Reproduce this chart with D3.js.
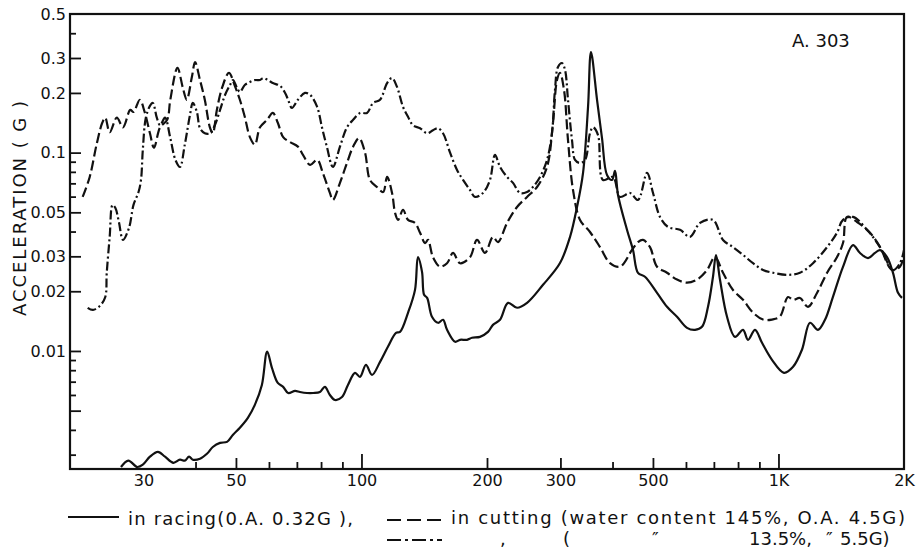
<!DOCTYPE html>
<html lang="en">
<head>
<meta charset="utf-8">
<title>Acceleration spectrum A.303</title>
<script src="https://cdn.jsdelivr.net/npm/d3@7"></script>
<style>
  body { margin: 0; background: #fff; }
  svg text { font-family: "DejaVu Sans", sans-serif; fill: #111; }
  .frame { fill: none; stroke: #111; stroke-width: 2.2; }
  .ticks line { stroke: #111; stroke-width: 1.8; }
  .curve { fill: none; stroke: #111; stroke-width: 2.2; stroke-linejoin: round; }
</style>
</head>
<body>
<script>
// frequency (Hz) / acceleration (G)
var racing = [[26.5,0.0026],[27.6,0.0028],[29.0,0.0026],[29.9,0.00267],[31.1,0.00293],[32.5,0.0031],[33.8,0.00293],[35.4,0.00273],[36.7,0.00283],[37.7,0.0028],[38.6,0.00293],[39.4,0.00283],[41.0,0.00286],[42.6,0.00303],[44.0,0.00328],[45.8,0.00344],[47.6,0.00348],[49.2,0.00378],[51.1,0.0041],[53.4,0.0046],[55.5,0.00535],[57.7,0.00674],[59.4,0.00993],[61.0,0.00822],[63.0,0.0069],[64.9,0.00659],[66.7,0.00614],[69.3,0.00629],[71.2,0.00621],[74.0,0.00614],[76.6,0.00614],[79.5,0.00621],[81.7,0.00659],[84.0,0.006],[86.4,0.00566],[89.8,0.00586],[92.8,0.00674],[96.5,0.00776],[99.2,0.0074],[102.5,0.00851],[106,0.00757],[110.8,0.00881],[115.8,0.01053],[121,0.01234],[123.7,0.01248],[129.3,0.01558],[134.4,0.02033],[136.6,0.02975],[139.7,0.02506],[141.3,0.0192],[143.7,0.01852],[147.6,0.01487],[152.6,0.01387],[156.9,0.01436],[160.4,0.01278],[167.7,0.01112],[172.3,0.01138],[179.1,0.01138],[184.1,0.01165],[192.4,0.01178],[201.1,0.01248],[206.7,0.01354],[214.9,0.01436],[224.6,0.01748],[236.1,0.01651],[249.5,0.01748],[272.5,0.02155],[299.3,0.02774],[316.3,0.03757],[328.8,0.05322],[339.9,0.079],[349.4,0.17],[355.1,0.3217],[367.2,0.1847],[377.4,0.1184],[388,0.0772],[398.9,0.0728],[405.5,0.0809],[412.3,0.0612],[433.4,0.04076],[447.9,0.03227],[460.4,0.02477],[478.5,0.02366],[511.4,0.01964],[540.4,0.01671],[571.1,0.01487],[603.5,0.01308],[630.8,0.01278],[655.6,0.01323],[677.7,0.01671],[696.6,0.02366],[708.3,0.0304],[724.1,0.02285],[752.7,0.01487],[786.6,0.01178],[822.2,0.01278],[845.3,0.01138],[878.5,0.01278],[913.1,0.01099],[964.9,0.00902],[1031,0.00776],[1084,0.00832],[1139,0.01017],[1190,0.01387],[1244,0.01278],[1293,0.01436],[1351,0.01874],[1428,0.02656],[1509,0.0342],[1569,0.03117],[1640,0.0294],[1704,0.0312],[1752,0.03227],[1821,0.02975],[1882,0.02477],[1935,0.01964],[1978,0.01852]];

var cutting145 = [[21.45,0.0598],[22.3,0.0754],[23.2,0.1117],[23.9,0.1414],[24.3,0.1499],[24.9,0.1267],[25.9,0.150],[26.8,0.1342],[27.9,0.1642],[28.4,0.1604],[29.4,0.1847],[30.2,0.1604],[31.1,0.1252],[31.8,0.106],[32.9,0.1342],[34.2,0.1464],[34.8,0.1847],[36.2,0.2673],[37.3,0.2119],[38.1,0.1847],[39.2,0.2405],[39.9,0.2862],[41.0,0.2322],[42.1,0.1847],[43.3,0.1342],[44.0,0.1252],[45.0,0.1642],[46.3,0.2119],[48.1,0.2522],[49.8,0.2144],[51.1,0.1847],[52.5,0.1516],[54.0,0.1198],[55.5,0.1097],[57.1,0.1342],[59.4,0.1464],[61.3,0.1585],[63.0,0.1414],[64.9,0.1198],[67.4,0.113],[70.4,0.1072],[72.4,0.0974],[75.3,0.0867],[78.3,0.0919],[80.8,0.079],[84.0,0.0626],[85.4,0.0577],[88.8,0.0704],[92.3,0.0887],[95.5,0.1072],[98.7,0.1184],[102,0.1],[104.8,0.0728],[108.9,0.0671],[112.7,0.0633],[115.2,0.0754],[118.4,0.0626],[120.4,0.0496],[122.4,0.0458],[125.8,0.0514],[129.3,0.0458],[134.4,0.0442],[138.2,0.0394],[142.1,0.035],[144.4,0.0363],[148.4,0.0297],[154.3,0.0266],[160.4,0.0277],[165.8,0.0312],[172.3,0.0277],[182.1,0.0297],[189.3,0.0363],[197.8,0.0312],[206.7,0.0376],[212.5,0.0354],[223.4,0.0442],[236.1,0.0532],[249.5,0.0598],[263.6,0.0671],[278.6,0.0847],[287.9,0.1414],[294.4,0.2322],[299.3,0.2522],[306,0.2071],[312.8,0.1157],[321.6,0.0648],[334.3,0.0458],[353.2,0.0398],[373.3,0.0334],[394.5,0.0277],[416.9,0.0266],[445.4,0.0323],[460.4,0.0354],[473.3,0.0363],[492,0.0334],[511.4,0.0266],[540.4,0.0248],[571.1,0.0229],[603.5,0.0221],[637.8,0.0229],[674,0.0256],[704.4,0.0297],[736.2,0.0248],[778,0.0203],[822.2,0.0181],[868.9,0.0156],[918.2,0.0144],[964.9,0.0144],[1008,0.0149],[1054,0.0187],[1084,0.0181],[1126,0.0185],[1177,0.0167],[1237,0.0196],[1308,0.0248],[1381,0.0297],[1428,0.035],[1460,0.0474],[1543,0.0447],[1658,0.0394],[1752,0.0334],[1872,0.0256],[1956,0.0266],[2000,0.0305]];

var cutting135 = [[22.05,0.0165],[22.7,0.0161],[23.6,0.0169],[24.3,0.0187],[24.5,0.0248],[24.9,0.0376],[25.3,0.0545],[25.7,0.0526],[26.2,0.0447],[26.8,0.0363],[27.7,0.0417],[28.4,0.0545],[29.2,0.0633],[29.6,0.0728],[29.9,0.1035],[30.4,0.150],[31.1,0.172],[31.6,0.178],[32.3,0.150],[32.9,0.1374],[33.8,0.150],[34.8,0.1184],[35.8,0.0919],[36.7,0.0847],[37.7,0.1097],[38.8,0.1552],[39.4,0.178],[40.3,0.1604],[41.0,0.1327],[42.1,0.1252],[43.3,0.1252],[44.5,0.1374],[45.8,0.1642],[47.1,0.1957],[48.4,0.2194],[49.2,0.2322],[50.3,0.2119],[51.1,0.2023],[52.5,0.2194],[54.0,0.2269],[55.5,0.2322],[57.1,0.2322],[58.1,0.2377],[59.7,0.2322],[61.3,0.2243],[63.8,0.217],[65.6,0.2],[66.7,0.1847],[68.1,0.168],[70.4,0.1847],[73.2,0.2],[75.3,0.1957],[78.3,0.170],[80.4,0.1342],[82.6,0.1072],[85.4,0.0847],[88.8,0.1072],[92.3,0.1342],[95.5,0.1464],[99.2,0.1585],[103.1,0.1585],[106.6,0.178],[110.8,0.1847],[115.2,0.2243],[118.4,0.2377],[121.7,0.2144],[125.8,0.170],[129.3,0.1516],[132.9,0.1374],[138.2,0.1327],[143.7,0.1252],[148.4,0.1297],[152.6,0.1327],[156.9,0.1252],[163.1,0.1],[169.5,0.0818],[175.2,0.0728],[182.1,0.0648],[187.2,0.0598],[195.6,0.0626],[203.3,0.0728],[209,0.0974],[214.9,0.0847],[223.4,0.0754],[230.9,0.0704],[240,0.0626],[249.5,0.0633],[257.8,0.0671],[268,0.0754],[278.6,0.0919],[286.3,0.1252],[291.1,0.2071],[296,0.2704],[302.6,0.2829],[307.7,0.2612],[312.8,0.1847],[319.8,0.1157],[325.2,0.0919],[334.3,0.0887],[343.7,0.0919],[353.2,0.1252],[359.1,0.1342],[369.2,0.1226],[379.5,0.0728],[401.1,0.0754],[416.9,0.0598],[440.5,0.0626],[460.4,0.0577],[483.9,0.079],[500.2,0.0626],[519.9,0.0474],[543.4,0.0422],[580.6,0.0408],[613.6,0.0376],[648.4,0.0442],[696.6,0.0458],[736.2,0.0363],[778,0.0334],[822.2,0.0305],[868.9,0.0277],[918.2,0.0256],[970.2,0.0248],[1048,0.0242],[1126,0.0248],[1210,0.0277],[1308,0.0334],[1381,0.0394],[1428,0.0458],[1509,0.0474],[1631,0.0408],[1752,0.0334],[1882,0.0256],[1956,0.0277],[2000,0.0323]];

// tick marks and labels
var xLabelVals = [30, 50, 100, 200, 300, 500, 1000, 2000];
var xLabelText = ["30", "50", "100", "200", "300", "500", "1K", "2K"];
var xDecadeTicks = [100, 1000];
var xMidTicks = [50, 200, 300, 500];
var xMinorTicks = [40, 60, 70, 80, 90, 400, 600, 700, 800, 900];

var yLabelVals = [0.5, 0.3, 0.2, 0.1, 0.05, 0.03, 0.02, 0.01];
var yLabelText = ["0.5", "0.3", "0.2", "0.1", "0.05", "0.03", "0.02", "0.01"];
var yMajorTicks = [0.3, 0.2, 0.1, 0.05, 0.03, 0.02, 0.01, 0.005];
var yMinorTicks = [0.4, 0.09, 0.08, 0.07, 0.06, 0.04, 0.009, 0.008, 0.007, 0.006, 0.004, 0.003];

var w = 920, h = 552;
var plotL = 70, plotR = 904, plotT = 14, plotB = 469;

var svg = d3.select("body").append("svg")
    .attr("width", w)
    .attr("height", h);

var x = d3.scaleLog().domain([20, 2000]).range([plotL, plotR]);
var y = d3.scaleLog().domain([0.00254, 0.5]).range([plotB, plotT]);

// ticks along the bottom (pointing up into the plot)
function xTicks(vals, len) {
  var g = svg.append("g").attr("class", "ticks")
      .attr("transform", "translate(0," + plotB + ")")
      .call(d3.axisBottom(x).tickValues(vals).tickSize(-len).tickFormat(""));
  g.select(".domain").remove();
}
xTicks(xMinorTicks, 7);
xTicks(xMidTicks, 11);
xTicks(xDecadeTicks, 15);

var xLab = svg.append("g")
    .attr("transform", "translate(0," + plotB + ")")
    .call(d3.axisBottom(x).tickValues(xLabelVals).tickSize(0).tickPadding(6)
      .tickFormat(function(d, i) { return xLabelText[i]; }));
xLab.select(".domain").remove();
xLab.selectAll("text").attr("font-size", 16).attr("font-family", "DejaVu Sans, sans-serif").attr("fill", "#111");

// ticks along the left side (pointing right)
function yTicks(vals, len) {
  var g = svg.append("g").attr("class", "ticks")
      .attr("transform", "translate(" + plotL + ",0)")
      .call(d3.axisLeft(y).tickValues(vals).tickSize(-len).tickFormat(""));
  g.select(".domain").remove();
}
yTicks(yMinorTicks, 6);
yTicks(yMajorTicks, 11);

var yLab = svg.append("g")
    .attr("transform", "translate(" + plotL + ",0)")
    .call(d3.axisLeft(y).tickValues(yLabelVals).tickSize(0).tickPadding(4)
      .tickFormat(function(d, i) { return yLabelText[i]; }));
yLab.select(".domain").remove();
yLab.selectAll("text").attr("font-size", 16).attr("font-family", "DejaVu Sans, sans-serif").attr("fill", "#111");

// frame
svg.append("rect").attr("class", "frame")
    .attr("x", plotL).attr("y", plotT)
    .attr("width", plotR - plotL).attr("height", plotB - plotT);

svg.append("clipPath").attr("id", "plotclip")
  .append("rect").attr("x", plotL).attr("y", plotT)
    .attr("width", plotR - plotL).attr("height", plotB - plotT);

var line = d3.line()
    .x(function(d) { return x(d[0]); })
    .y(function(d) { return y(d[1]); })
    .curve(d3.curveCatmullRom.alpha(0.5));

var plot = svg.append("g").attr("clip-path", "url(#plotclip)");

plot.append("path").datum(cutting135).attr("class", "curve")
    .attr("stroke-dasharray", "9,3,2,3")
    .attr("d", line);
plot.append("path").datum(cutting145).attr("class", "curve")
    .attr("stroke-dasharray", "10,4")
    .attr("d", line);
plot.append("path").datum(racing).attr("class", "curve")
    .attr("d", line);

// labels
svg.append("text")
    .attr("x", 792).attr("y", 47)
    .attr("font-size", 18)
    .text("A. 303");

svg.append("text")
    .attr("transform", "translate(26,316) rotate(-90)")
    .attr("font-size", 18)
    .attr("textLength", 215)
    .attr("lengthAdjust", "spacing")
    .text("ACCELERATION ( G )");

// legend
svg.append("line").attr("x1", 68).attr("x2", 119).attr("y1", 517).attr("y2", 517)
    .attr("stroke", "#111").attr("stroke-width", 2.2);
svg.append("text").attr("x", 128).attr("y", 525).attr("font-size", 18)
    .attr("textLength", 225).attr("lengthAdjust", "spacing")
    .text("in racing(0.A. 0.32G ),");

svg.append("line").attr("x1", 387).attr("x2", 442).attr("y1", 520).attr("y2", 520)
    .attr("stroke", "#111").attr("stroke-width", 2.2).attr("stroke-dasharray", "14,6");
svg.append("text").attr("x", 451).attr("y", 524).attr("font-size", 18)
    .attr("textLength", 454).attr("lengthAdjust", "spacing")
    .text("in cutting (water content 145%, O.A. 4.5G)");

svg.append("line").attr("x1", 387).attr("x2", 442).attr("y1", 540).attr("y2", 540)
    .attr("stroke", "#111").attr("stroke-width", 2.2).attr("stroke-dasharray", "14,4,3,4");
var row2 = [[500, ","], [563, "("], [652, "\u2033"], [749, "13.5%,"], [826, "\u2033"], [840, "5.5G)"]];
svg.selectAll(".row2").data(row2).enter().append("text")
    .attr("x", function(d) { return d[0]; })
    .attr("y", 545)
    .attr("font-size", 18)
    .text(function(d) { return d[1]; });
</script>
</body>
</html>
